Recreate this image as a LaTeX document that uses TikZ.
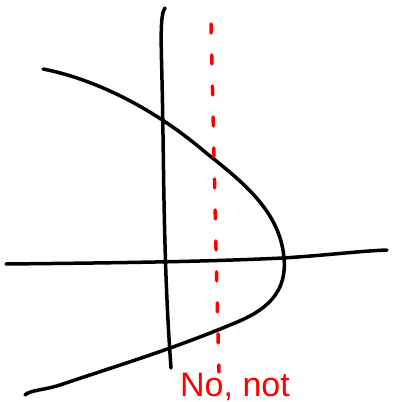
\documentclass[tikz,border=0pt]{standalone}
\usepackage{xcolor}
\usepackage{fontspec}
\newfontfamily\handfont{Liberation Sans}
\definecolor{InkBlack}{HTML}{000000}
\definecolor{InkRed}  {HTML}{FF0000}

\begin{document}
\begin{tikzpicture}[x=1pt,y=-1pt,
    ink/.style={InkBlack,line width=3.5pt,line cap=round,line join=round},
    redink/.style={InkRed,line width=3.5pt,line cap=round,dash pattern=on 9pt off 22pt}]
    \useasboundingbox (0,0) rectangle (393,402);
    % Axes
    \draw[ink] (165,8) .. controls (160,14) and (161,40) .. (162,80)
      .. controls (164,160) and (163,260) .. (171,368);
    \draw[ink] (6,264) .. controls (100,263) and (200,262) .. (283,258)
      .. controls (330,255) and (360,251) .. (387,250);
    % Sideways curve
    \draw[ink] (43,69) .. controls (90,78) and (150,105) .. (205,152)
      .. controls (240,180) and (280,210) .. (284,258)
      .. controls (288,300) and (255,315) .. (230,325)
      .. controls (170,350) and (110,368) .. (60,385)
      .. controls (45,390) and (30,390) .. (25,395);
    % Red dashed line
    \draw[redink] (211,24) .. controls (214,150) and (216,260) .. (219,372);
    % Note
    \node[InkRed,anchor=base west,inner sep=0pt,font=\handfont\fontsize{34}{34}\selectfont]
      (note) at (180,396) {No, not};
\end{tikzpicture}
\end{document}
